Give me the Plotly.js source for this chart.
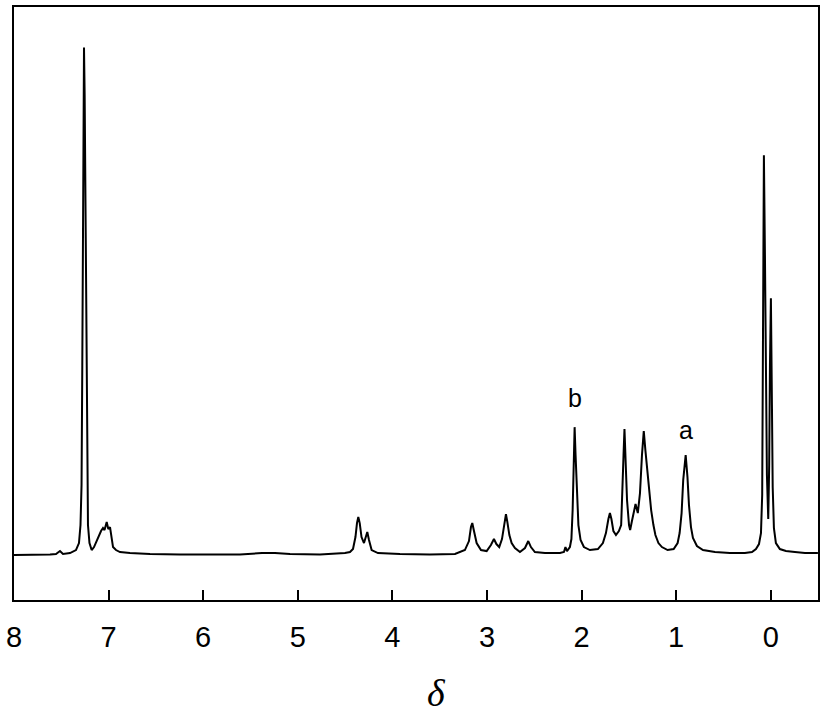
<!DOCTYPE html>
<html>
<head>
<meta charset="utf-8">
<script src="https://cdn.plot.ly/plotly-3.0.1.min.js"></script>
<style>html,body{margin:0;padding:0;background:#fff;}#chart{width:827px;height:715px;}</style>
</head>
<body>
<div id="chart"></div>
<script>
// Chemical shift (ppm) and intensity (a.u.)
const shift = [
  8.000, 7.831, 7.619, 7.556, 7.514, 7.482, 7.408, 7.345, 7.313, 7.297, 7.286, 7.278, 7.267, 7.260, 7.253, 7.244, 7.236, 7.228, 7.218, 7.202,
  7.179, 7.154, 7.126, 7.101, 7.080, 7.059, 7.043, 7.020, 7.003, 6.985, 6.969, 6.953, 6.922, 6.879, 6.774, 6.562, 6.245, 5.928, 5.611, 5.378,
  5.241, 5.082, 4.765, 4.501, 4.448, 4.416, 4.390, 4.374, 4.360, 4.345, 4.326, 4.300, 4.281, 4.265, 4.247, 4.219, 4.152, 3.920, 3.603, 3.338,
  3.233, 3.190, 3.169, 3.155, 3.137, 3.109, 3.063, 3.003, 2.958, 2.926, 2.900, 2.870, 2.841, 2.815, 2.799, 2.784, 2.763, 2.739, 2.704, 2.651,
  2.598, 2.563, 2.535, 2.493, 2.387, 2.228, 2.186, 2.170, 2.154, 2.123, 2.107, 2.094, 2.084, 2.073, 2.063, 2.049, 2.033, 2.010, 1.975, 1.911,
  1.827, 1.774, 1.742, 1.716, 1.700, 1.684, 1.663, 1.636, 1.605, 1.581, 1.567, 1.556, 1.546, 1.535, 1.519, 1.498, 1.486, 1.467, 1.445, 1.429,
  1.405, 1.382, 1.361, 1.342, 1.324, 1.300, 1.282, 1.264, 1.240, 1.219, 1.187, 1.150, 1.090, 1.026, 0.984, 0.963, 0.942, 0.925, 0.899, 0.880,
  0.864, 0.843, 0.822, 0.780, 0.716, 0.589, 0.431, 0.273, 0.198, 0.156, 0.124, 0.103, 0.090, 0.083, 0.072, 0.061, 0.051, 0.040, 0.026, 0.016,
  0.008, -0.002, -0.013, -0.021, -0.034, -0.055, -0.097, -0.161, -0.256, -0.362, -0.499
];
const intensity = [
  0, 0, 0.5, 1, 4, 1, 2, 5, 12, 30, 70, 190, 370, 508, 460, 332, 180, 70, 30, 12,
  5, 8, 14, 20, 24, 27, 25, 33, 26, 28, 18, 8, 5, 3, 2, 1, 0.5, 0.5, 0.5, 2,
  2, 1, 0.5, 2, 3, 6, 18, 32, 38, 32, 18, 12, 18, 23, 15, 5, 2, 1, 0.5, 1,
  5, 14, 28, 32, 24, 12, 5, 4, 10, 16, 11, 8, 16, 33, 41, 33, 20, 12, 7, 3,
  7, 14, 8, 3, 2, 2, 3, 8, 4, 8, 16, 45, 90, 128, 100, 58, 30, 15, 8, 5,
  6, 12, 22, 36, 42, 36, 24, 20, 24, 30, 60, 100, 126, 95, 55, 30, 25, 34, 46, 51,
  42, 62, 100, 124, 104, 78, 60, 45, 30, 20, 12, 8, 5, 6, 12, 22, 42, 75, 100, 78,
  50, 28, 17, 9, 5, 3, 2, 2, 3, 6, 11, 22, 60, 187, 400, 300, 195, 80, 36, 90,
  190, 257, 150, 68, 27, 12, 6, 4, 3, 2, 2
];
const tickVals = [8, 7, 6, 5, 4, 3, 2, 1, 0];
const tickText = ['8', '7', '6', '5', '4', '3', '2', '1', '0'];
const peakLabels = ['b', 'a'];
const peakShift = [2.073, 0.899];
const peakLabelY = [157, 125];
const axisTitle = 'δ';

const trace = {
  x: shift, y: intensity, type: 'scatter', mode: 'lines',
  line: {color: '#000', width: 2}, hoverinfo: 'skip', showlegend: false
};

const annotations = peakLabels.map((t, i) => ({
  x: peakShift[i], y: peakLabelY[i], xref: 'x', yref: 'y', text: t,
  showarrow: false, font: {family: 'Liberation Sans, Arial, sans-serif', size: 25, color: '#000'}
}));
annotations.push({
  x: 0.526, y: -0.157, xref: 'paper', yref: 'paper', text: axisTitle,
  xanchor: 'center', yanchor: 'middle', showarrow: false,
  font: {family: 'Liberation Serif, Times New Roman, serif', size: 38, color: '#000', style: 'italic'}
});

const layout = {
  width: 827, height: 715,
  margin: {l: 14, r: 9, t: 7, b: 115},
  paper_bgcolor: '#fff', plot_bgcolor: '#fff',
  showlegend: false,
  xaxis: {
    range: [8, -0.5], tickvals: tickVals, ticktext: tickText,
    ticks: 'inside', ticklen: 10, tickwidth: 2, tickcolor: '#000',
    showline: true, mirror: true, linewidth: 2, linecolor: '#000',
    showgrid: false, zeroline: false,
    tickfont: {family: 'Liberation Sans, Arial, sans-serif', size: 29, color: '#000'},
    ticklabelstandoff: 10
  },
  yaxis: {
    range: [-45, 548.5], showticklabels: false, ticks: '',
    showline: true, mirror: true, linewidth: 2, linecolor: '#000',
    showgrid: false, zeroline: false
  },
  annotations: annotations
};

Plotly.newPlot('chart', [trace], layout, {displayModeBar: false, staticPlot: true});
</script>
</body>
</html>
